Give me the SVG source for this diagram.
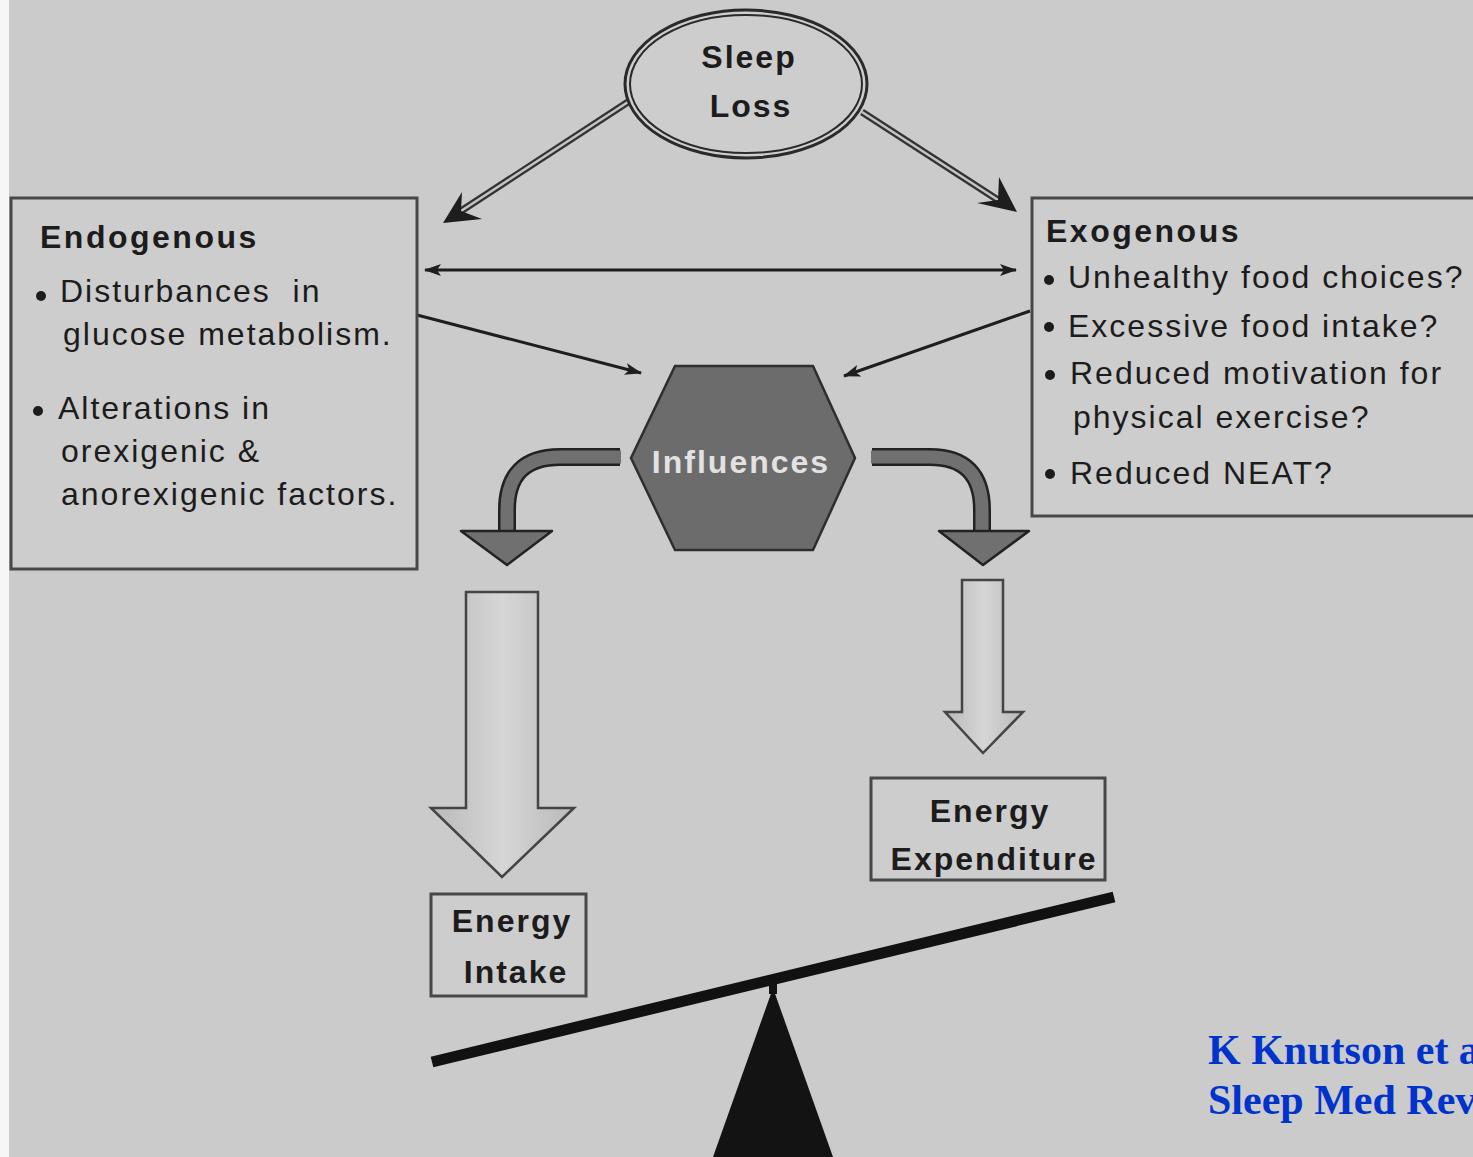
<svg xmlns="http://www.w3.org/2000/svg" width="1473" height="1157" viewBox="0 0 1473 1157">
<style>
.t{font-family:"Liberation Sans",Arial,sans-serif;font-size:32px;fill:#1c1c1c;letter-spacing:2px}
.b{font-weight:bold}
.box{fill:#cdcdcd;stroke:#484848;stroke-width:3}
.thin{stroke:#1e1e1e;stroke-width:3;fill:none}
.cite{font-family:"Liberation Serif","Times New Roman",serif;font-weight:bold;font-size:42px;fill:#0033cc}
</style>
<defs>
<marker id="ah" markerUnits="userSpaceOnUse" markerWidth="18" markerHeight="14" refX="16" refY="7" orient="auto-start-reverse">
<path d="M0,1 L17,7 L0,13 L4,7 Z" fill="#1e1e1e"/>
</marker>
<linearGradient id="g" x1="0" y1="0" x2="1" y2="0">
<stop offset="0" stop-color="#b9b9b9"/>
<stop offset="0.5" stop-color="#d6d6d6"/>
<stop offset="1" stop-color="#b9b9b9"/>
</linearGradient>
</defs>
<rect x="0" y="0" width="1473" height="1157" fill="#cbcbcb"/>
<rect x="0" y="0" width="9" height="1157" fill="#f6f6f6"/>

<g id="connectors">
<line x1="628" y1="102" x2="461" y2="211" stroke="#333" stroke-width="7"/>
<line x1="628" y1="102" x2="461" y2="211" stroke="#c4c4c4" stroke-width="2.5"/>
<polygon points="443,223 482,219 461,211 462,192" fill="#1e1e1e"/>
<line x1="862" y1="112" x2="998" y2="200" stroke="#333" stroke-width="7"/>
<line x1="862" y1="112" x2="998" y2="200" stroke="#c4c4c4" stroke-width="2.5"/>
<polygon points="1017,212 977,203 998,200 999,177" fill="#1e1e1e"/>
<line class="thin" x1="425" y1="270" x2="1016" y2="270" marker-start="url(#ah)" marker-end="url(#ah)"/>
<line class="thin" x1="417" y1="315" x2="641" y2="373" marker-end="url(#ah)"/>
<line class="thin" x1="1030" y1="311" x2="844" y2="376" marker-end="url(#ah)"/>
<path d="M620,457 L560,457 Q507,457 507,510 L507,532" fill="none" stroke="#222" stroke-width="18"/>
<path d="M621,457 L560,457 Q507,457 507,510 L507,534" fill="none" stroke="#707070" stroke-width="13"/>
<polygon points="461,531 552,531 507,565" fill="#707070" stroke="#222" stroke-width="2.5" stroke-linejoin="round"/>
<path d="M872,457 L930,457 Q982,457 982,510 L982,532" fill="none" stroke="#222" stroke-width="18"/>
<path d="M871,457 L930,457 Q982,457 982,510 L982,534" fill="none" stroke="#707070" stroke-width="13"/>
<polygon points="939,531 1029,531 983,565" fill="#707070" stroke="#222" stroke-width="2.5" stroke-linejoin="round"/>
<polygon points="466,592 538,592 538,808 574,808 502,877 431,808 466,808" fill="url(#g)" stroke="#444" stroke-width="2.5"/>
<polygon points="962,580 1003,580 1003,712 1023,712 983,753 945,712 962,712" fill="url(#g)" stroke="#444" stroke-width="2.5"/>
</g>

<g id="sleep-loss">
<ellipse cx="746" cy="84" rx="121" ry="74" fill="#cdcdcd" stroke="#2a2a2a" stroke-width="3"/>
<ellipse cx="746" cy="84" rx="116" ry="69" fill="none" stroke="#2a2a2a" stroke-width="2"/>
<text class="t b" x="749" y="68" text-anchor="middle">Sleep</text>
<text class="t b" x="751" y="117" text-anchor="middle">Loss</text>
</g>

<g id="endogenous">
<rect class="box" x="11" y="198" width="406" height="371"/>
<text class="t b" x="40" y="248" style="letter-spacing:2.5px">Endogenous</text>
<circle cx="41" cy="296" r="5" fill="#1c1c1c"/>
<text class="t" x="60" y="302">Disturbances&#160; in</text>
<text class="t" x="63" y="345">glucose metabolism.</text>
<circle cx="38" cy="411" r="5" fill="#1c1c1c"/>
<text class="t" x="58" y="419">Alterations in</text>
<text class="t" x="61" y="462">orexigenic &amp;</text>
<text class="t" x="61" y="505">anorexigenic factors.</text>
</g>

<g id="exogenous">
<rect class="box" x="1032" y="198" width="445" height="318"/>
<text class="t b" x="1046" y="242" style="letter-spacing:2.5px">Exogenous</text>
<circle cx="1049" cy="280" r="5" fill="#1c1c1c"/>
<text class="t" x="1068" y="288">Unhealthy food choices?</text>
<circle cx="1049" cy="327" r="5" fill="#1c1c1c"/>
<text class="t" x="1068" y="337">Excessive food intake?</text>
<circle cx="1050" cy="375" r="5" fill="#1c1c1c"/>
<text class="t" x="1070" y="384">Reduced motivation for</text>
<text class="t" x="1073" y="428">physical exercise?</text>
<circle cx="1050" cy="474" r="5" fill="#1c1c1c"/>
<text class="t" x="1070" y="484">Reduced NEAT?</text>
</g>

<g id="influences">
<polygon points="675,366 813,366 855,458 813,550 675,550 631,458" fill="#6c6c6c" stroke="#2e2e2e" stroke-width="2.5"/>
<text class="t b" x="741" y="473" text-anchor="middle" style="fill:#e2e2e2">Influences</text>
</g>

<g id="energy-intake">
<rect class="box" x="431" y="894" width="155" height="102"/>
<text class="t b" x="512" y="932" text-anchor="middle">Energy</text>
<text class="t b" x="516" y="983" text-anchor="middle">Intake</text>
</g>

<g id="energy-expenditure">
<rect class="box" x="871" y="778" width="234" height="102"/>
<text class="t b" x="990" y="822" text-anchor="middle">Energy</text>
<text class="t b" x="994" y="870" text-anchor="middle">Expenditure</text>
</g>

<g id="seesaw">
<line x1="432" y1="1062" x2="1114" y2="897" stroke="#111" stroke-width="11"/>
<polygon points="773,988 833,1157 713,1157" fill="#131313"/>
<rect x="769" y="982" width="8" height="12" fill="#131313"/>
</g>

<g id="citation">
<text class="cite" x="1208" y="1064">K Knutson et al.</text>
<text class="cite" x="1208" y="1114">Sleep Med Rev</text>
</g>
</svg>
